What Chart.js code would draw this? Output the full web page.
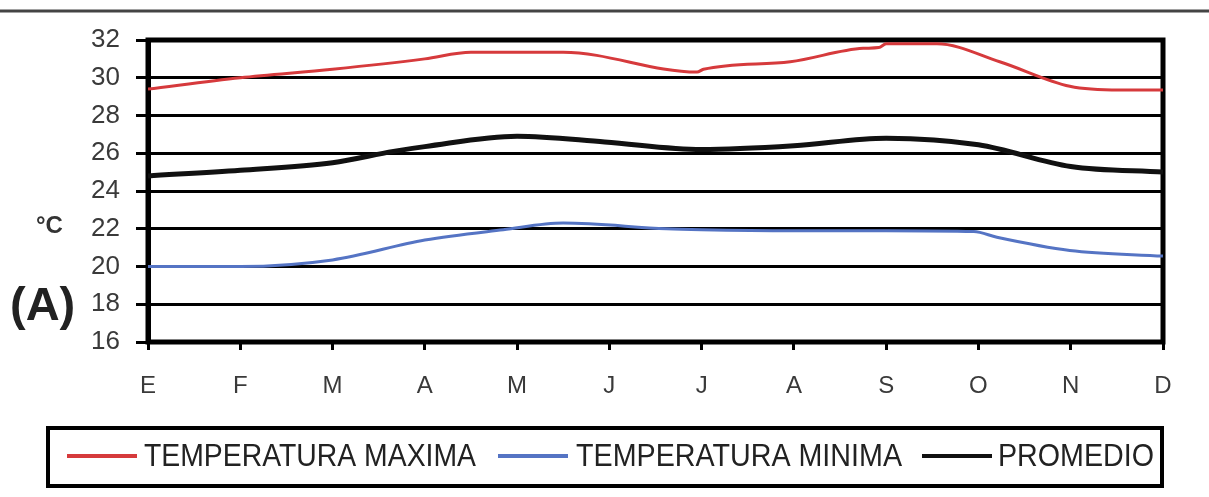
<!DOCTYPE html>
<html>
<head>
<meta charset="utf-8">
<script src="https://cdn.jsdelivr.net/npm/chart.js@4"></script>
<style>
  html, body { margin: 0; padding: 0; background: #fff; }
  #tempChart { display: block; }
</style>
</head>
<body>
<canvas id="tempChart" width="1209" height="497"></canvas>
<script>
const months = ["E", "F", "M", "A", "M", "J", "J", "A", "S", "O", "N", "D"];
const yTicks = [16, 18, 20, 22, 24, 26, 28, 30, 32];

// month position (0 = E ... 11 = D) and reading in degrees
const maxPos  = [0, 1, 2, 3, 3.5, 4, 4.5, 5.95, 6.02, 6.96, 7.75, 7.92, 8.0, 8.55, 9.23, 9.99, 10.53, 11];
const maxVals = [29.4, 30.0, 30.45, 31.0, 31.35, 31.35, 31.35, 30.3, 30.45, 30.85, 31.56, 31.6, 31.8, 31.8, 30.85, 29.55, 29.35, 29.35];

const minPos  = [0, 1, 2, 3, 3.85, 4.5, 5.62, 6, 7, 8, 8.95, 9.2, 9.99, 11];
const minVals = [20.0, 20.0, 20.35, 21.4, 21.95, 22.3, 22.0, 21.95, 21.9, 21.9, 21.85, 21.55, 20.85, 20.55];

const avgPos  = [0, 1, 2, 2.66, 3, 4, 4.95, 6, 7, 8, 9, 10, 11];
const avgVals = [24.8, 25.1, 25.5, 26.1, 26.35, 26.9, 26.6, 26.2, 26.4, 26.8, 26.45, 25.3, 25.0];

const seriesLabels = ["TEMPERATURA MAXIMA", "TEMPERATURA MINIMA", "PROMEDIO"];
const seriesColors = ["#d63a3c", "#5574c4", "#111111"];

function toPoints(xs, ys) {
    return xs.map((x, i) => ({ x: x, y: ys[i] }));
}

const frameAndText = {
    id: "frameAndText",
    beforeDraw(chart) {
        const { ctx } = chart;
        ctx.save();
        ctx.fillStyle = "#fff";
        ctx.fillRect(0, 0, chart.width, chart.height);
        // thin rule at the top of the figure
        ctx.strokeStyle = "#444";
        ctx.lineWidth = 3;
        ctx.beginPath();
        ctx.moveTo(0, 11);
        ctx.lineTo(chart.width, 11);
        ctx.stroke();
        ctx.restore();
    },
    beforeDatasetsDraw(chart) {
        const { ctx, chartArea } = chart;
        ctx.save();
        ctx.strokeStyle = "#000";
        ctx.lineWidth = 5;
        ctx.strokeRect(chartArea.left, chartArea.top, chartArea.right - chartArea.left, chartArea.bottom - chartArea.top);
        ctx.restore();
    },
    afterDraw(chart) {
        const { ctx } = chart;
        ctx.save();
        ctx.fillStyle = "#333";
        ctx.textBaseline = "middle";
        ctx.textAlign = "left";
        ctx.font = "bold 24px 'Liberation Sans', Arial, sans-serif";
        ctx.fillText("°C", 36, 226);
        ctx.fillStyle = "#222";
        ctx.font = "bold 47px 'Liberation Sans', Arial, sans-serif";
        ctx.fillText("(A)", 10, 307);

        // legend box
        ctx.strokeStyle = "#000";
        ctx.lineWidth = 4;
        ctx.strokeRect(48, 428, 1114, 58);

        const cy = 456;
        const items = [
            { line: [67, 137], text: [144, 476] },
            { line: [498, 568], text: [576, 902] },
            { line: [922, 992], text: [998, 1154] }
        ];
        ctx.font = "31px 'Liberation Sans', Arial, sans-serif";
        ctx.fillStyle = "#222";
        chart.data.datasets.forEach((ds, i) => {
            const it = items[i];
            ctx.strokeStyle = ds.borderColor;
            ctx.lineWidth = 4;
            ctx.beginPath();
            ctx.moveTo(it.line[0], cy);
            ctx.lineTo(it.line[1], cy);
            ctx.stroke();
            const w = ctx.measureText(ds.label).width;
            const sx = (it.text[1] - it.text[0]) / w;
            ctx.save();
            ctx.translate(it.text[0], cy + 1);
            ctx.scale(sx, 1);
            ctx.fillText(ds.label, 0, 0);
            ctx.restore();
        });
        ctx.restore();
    }
};

const chart = new Chart(document.getElementById("tempChart"), {
    type: "line",
    data: {
        datasets: [
            {
                label: seriesLabels[0],
                data: toPoints(maxPos, maxVals),
                borderColor: seriesColors[0],
                borderWidth: 3
            },
            {
                label: seriesLabels[1],
                data: toPoints(minPos, minVals),
                borderColor: seriesColors[1],
                borderWidth: 3
            },
            {
                label: seriesLabels[2],
                data: toPoints(avgPos, avgVals),
                borderColor: seriesColors[2],
                borderWidth: 5
            }
        ]
    },
    options: {
        responsive: false,
        animation: false,
        layout: { padding: { left: 0, top: 40, right: 46, bottom: 0 } },
        elements: {
            point: { radius: 0 },
            line: { cubicInterpolationMode: "monotone", fill: false }
        },
        plugins: {
            legend: { display: false },
            tooltip: { enabled: false }
        },
        scales: {
            x: {
                type: "linear",
                min: 0,
                max: 11,
                afterBuildTicks(scale) {
                    scale.ticks = months.map((m, i) => ({ value: i }));
                },
                afterFit(scale) { scale.height = 155; },
                ticks: {
                    autoSkip: false,
                    maxRotation: 0,
                    padding: 22,
                    color: "#3a3a3a",
                    font: { family: "'Liberation Sans', Arial, sans-serif", size: 24 },
                    callback: (v) => months[v]
                },
                grid: {
                    drawOnChartArea: false,
                    drawTicks: true,
                    tickLength: 8,
                    tickColor: "#000",
                    tickWidth: 3
                },
                border: { display: false }
            },
            y: {
                min: 16,
                max: 32,
                afterBuildTicks(scale) {
                    scale.ticks = yTicks.map(v => ({ value: v }));
                },
                afterFit(scale) { scale.width = 148; },
                ticks: {
                    padding: 16,
                    color: "#3a3a3a",
                    font: { family: "'Liberation Sans', Arial, sans-serif", size: 26 }
                },
                grid: {
                    color: "#000",
                    lineWidth: 3,
                    tickLength: 12,
                    tickColor: "#000",
                    tickWidth: 3
                },
                border: { color: "#000", width: 5 }
            }
        }
    },
    plugins: [frameAndText]
});
</script>
</body>
</html>
